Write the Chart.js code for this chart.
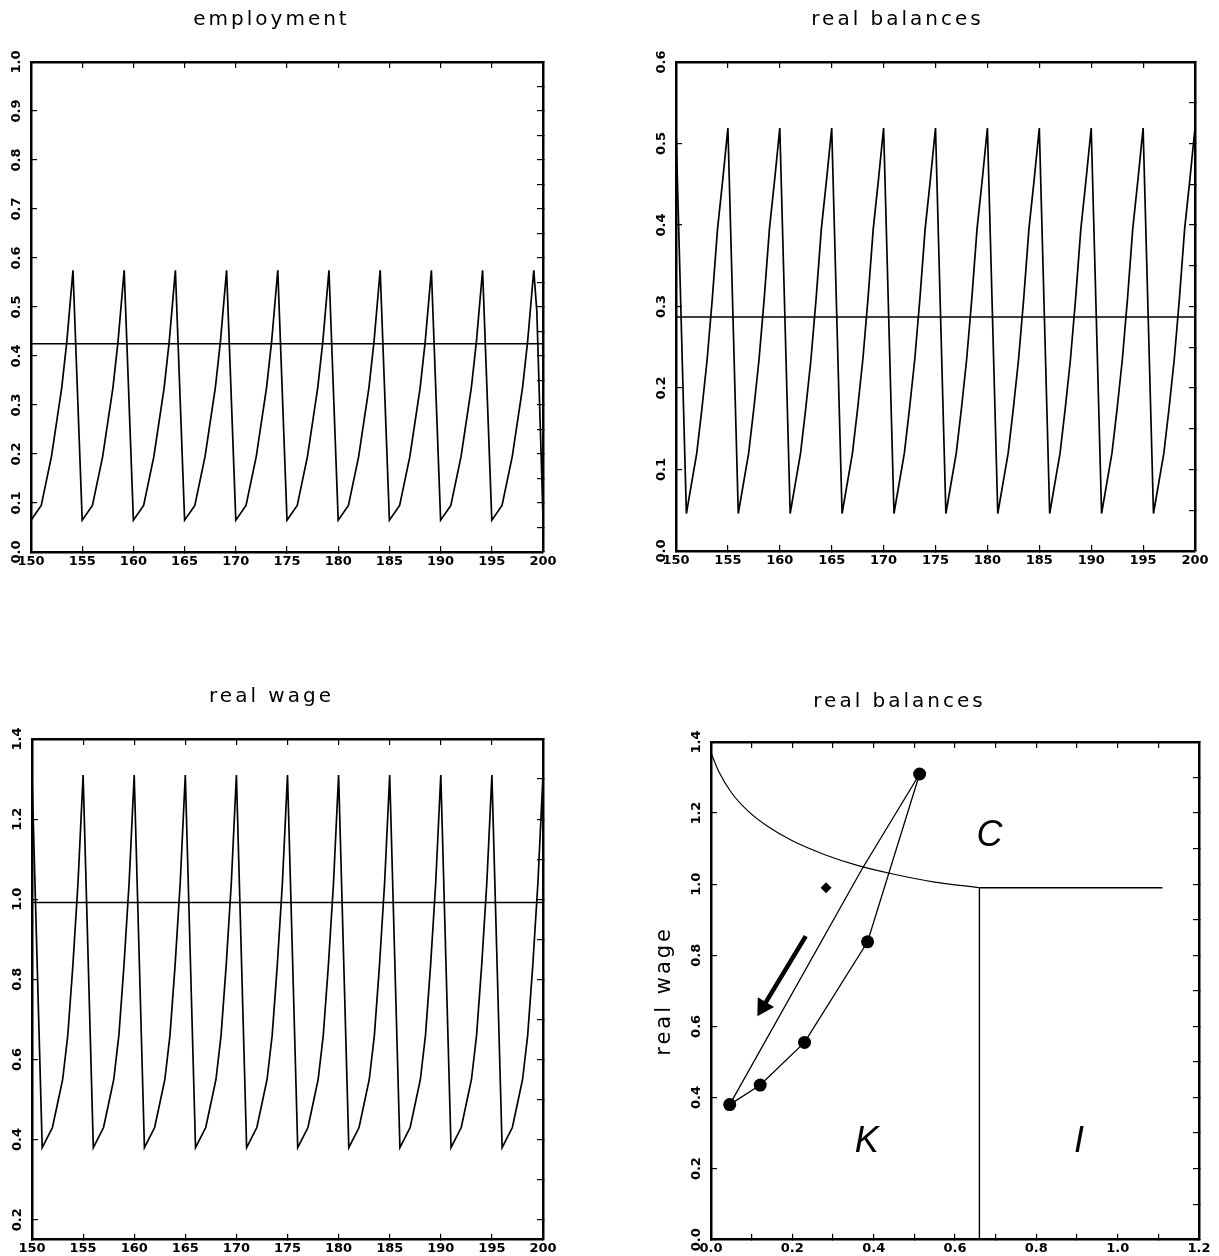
<!DOCTYPE html>
<html>
<head>
<meta charset="utf-8">
<script src="https://cdn.jsdelivr.net/npm/chart.js@4/dist/chart.umd.min.js"></script>
<style>
html,body{margin:0;padding:0;background:#fff;width:1219px;height:1256px;overflow:hidden}
canvas{position:absolute}
</style>
</head>
<body>
<canvas id="c1" width="600" height="628" style="left:0;top:0"></canvas>
<canvas id="c2" width="619" height="628" style="left:600px;top:0"></canvas>
<canvas id="c3" width="600" height="628" style="left:0;top:628px"></canvas>
<canvas id="c4" width="619" height="628" style="left:600px;top:628px"></canvas>
<script>
// ---------------- DATA ----------------
const titles = ['employment', 'real balances', 'real wage', 'real balances'];
const yearTicks = [150, 155, 160, 165, 170, 175, 180, 185, 190, 195, 200];
const meanSpan = [150, 200];

// employment
const empT = [
  150,151,152,153,153.5,154.1,
  155,156,157,158,158.5,159.1,
  160,161,162,163,163.5,164.1,
  165,166,167,168,168.5,169.1,
  170,171,172,173,173.5,174.1,
  175,176,177,178,178.5,179.1,
  180,181,182,183,183.5,184.1,
  185,186,187,188,188.5,189.1,
  190,191,192,193,193.5,194.1,
  195,196,197,198,198.5,199.1,
  199.4,200
];
const empV = [
  0.065,0.095,0.195,0.335,0.43,0.575,
  0.065,0.095,0.195,0.335,0.43,0.575,
  0.065,0.095,0.195,0.335,0.43,0.575,
  0.065,0.095,0.195,0.335,0.43,0.575,
  0.065,0.095,0.195,0.335,0.43,0.575,
  0.065,0.095,0.195,0.335,0.43,0.575,
  0.065,0.095,0.195,0.335,0.43,0.575,
  0.065,0.095,0.195,0.335,0.43,0.575,
  0.065,0.095,0.195,0.335,0.43,0.575,
  0.065,0.095,0.195,0.335,0.43,0.575,
  0.49,0.07
];
const empMean = 0.425;
const empYTicks = [0,0.1,0.2,0.3,0.4,0.5,0.6,0.7,0.8,0.9,1.0];
const empRightTicks = [0,0.05,0.1,0.15,0.2,0.25,0.3,0.35,0.4,0.45,0.5,0.55,0.6,0.65,0.7,0.75,0.8,0.85,0.9,0.95,1.0];

// real balances & real wage share the same sample times
const wT = [
  150,
  151,152,152.5,153,153.5,154,154.5,155,
  156,157,157.5,158,158.5,159,159.5,160,
  161,162,162.5,163,163.5,164,164.5,165,
  166,167,167.5,168,168.5,169,169.5,170,
  171,172,172.5,173,173.5,174,174.5,175,
  176,177,177.5,178,178.5,179,179.5,180,
  181,182,182.5,183,183.5,184,184.5,185,
  186,187,187.5,188,188.5,189,189.5,190,
  191,192,192.5,193,193.5,194,194.5,195,
  196,197,197.5,198,198.5,199,199.5,200
];
const balV = [
  0.519,
  0.046,0.12,0.175,0.235,0.31,0.395,0.455,0.519,
  0.046,0.12,0.175,0.235,0.31,0.395,0.455,0.519,
  0.046,0.12,0.175,0.235,0.31,0.395,0.455,0.519,
  0.046,0.12,0.175,0.235,0.31,0.395,0.455,0.519,
  0.046,0.12,0.175,0.235,0.31,0.395,0.455,0.519,
  0.046,0.12,0.175,0.235,0.31,0.395,0.455,0.519,
  0.046,0.12,0.175,0.235,0.31,0.395,0.455,0.519,
  0.046,0.12,0.175,0.235,0.31,0.395,0.455,0.519,
  0.046,0.12,0.175,0.235,0.31,0.395,0.455,0.519,
  0.046,0.12,0.175,0.235,0.31,0.395,0.455,0.519
];
const balMean = 0.287;
const balYTicks = [0,0.1,0.2,0.3,0.4,0.5,0.6];
const balRightTicks = [0,0.05,0.1,0.15,0.2,0.25,0.3,0.35,0.4,0.45,0.5,0.55,0.6];

const wageV = [
  1.31,
  0.38,0.43,0.49,0.55,0.66,0.835,1.04,1.31,
  0.38,0.43,0.49,0.55,0.66,0.835,1.04,1.31,
  0.38,0.43,0.49,0.55,0.66,0.835,1.04,1.31,
  0.38,0.43,0.49,0.55,0.66,0.835,1.04,1.31,
  0.38,0.43,0.49,0.55,0.66,0.835,1.04,1.31,
  0.38,0.43,0.49,0.55,0.66,0.835,1.04,1.31,
  0.38,0.43,0.49,0.55,0.66,0.835,1.04,1.31,
  0.38,0.43,0.49,0.55,0.66,0.835,1.04,1.31,
  0.38,0.43,0.49,0.55,0.66,0.835,1.04,1.31,
  0.38,0.43,0.49,0.55,0.66,0.835,1.04,1.31
];
const wageMean = 0.992;
const wageYTicks = [0.2,0.4,0.6,0.8,1.0,1.2,1.4];
const wageRightTicks = [0.2,0.3,0.4,0.5,0.6,0.7,0.8,0.9,1.0,1.1,1.2,1.3,1.4];

// phase diagram (real balances vs real wage)
const boundX = [0, 0.02, 0.05, 0.09, 0.14, 0.2, 0.28, 0.36, 0.45, 0.55, 0.66];
const boundY = [1.37, 1.315, 1.258, 1.207, 1.162, 1.122, 1.083, 1.053, 1.028, 1.006, 0.99];
const hLineX = [0.66, 1.11];
const hLineY = [0.99, 0.99];
const vLineX = [0.66, 0.66];
const vLineY = [0, 0.99];
const dotsX = [0.046, 0.121, 0.23, 0.385, 0.513];
const dotsY = [0.38, 0.435, 0.555, 0.838, 1.31];
const retX = [0.513, 0.37, 0.046];
const retY = [1.31, 1.04, 0.38];
const diamondX = [0.283];
const diamondY = [0.99];
const arrowX = [0.233, 0.128];
const arrowY = [0.854, 0.655];
const regionLabels = ['C', 'K', 'I'];
const regionX = [0.685, 0.383, 0.905];
const regionY = [1.135, 0.275, 0.275];
const phaseXTicks = [0,0.1,0.2,0.3,0.4,0.5,0.6,0.7,0.8,0.9,1.0,1.1,1.2];
const phaseYTicks = [0,0.2,0.4,0.6,0.8,1.0,1.2,1.4];
const phaseRightTicks = [0,0.1,0.2,0.3,0.4,0.5,0.6,0.7,0.8,0.9,1.0,1.1,1.2,1.3,1.4];
const phaseYTitle = 'real wage';

// ---------------- HELPERS ----------------
const FONT = "'DejaVu Sans', sans-serif";
const pts = (xs, ys) => xs.map((x, i) => ({x: x, y: ys[i]}));

const spacing = {
  id: 'spacing',
  beforeDraw(chart, args, opts) {
    const ctx = chart.ctx;
    ctx.letterSpacing = opts.ticks || '0px';
    const tb = chart.titleBlock;
    if (tb && !tb._sp) {
      const orig = tb.draw.bind(tb);
      tb.draw = function (a) { const p = ctx.letterSpacing; ctx.letterSpacing = opts.title || '0px'; orig(a); ctx.letterSpacing = p; };
      tb._sp = true;
    }
    const ys = chart.scales.y;
    if (ys && !ys._sp) {
      const o = ys.drawTitle.bind(ys);
      ys.drawTitle = function () { const p = ctx.letterSpacing; ctx.letterSpacing = opts.axisTitle || '0px'; o(); ctx.letterSpacing = p; };
      ys._sp = true;
    }
  },
  afterDraw(chart) { chart.ctx.letterSpacing = '0px'; }
};
Chart.register(spacing);

function buildOptions(g) {
  const titleSize = 20, lh = titleSize * 1.2;
  const padTop = g.titleY - lh / 2;
  const padBottom = g.T - padTop - lh;
  const grid = {display: true, drawOnChartArea: false, drawTicks: true, tickLength: -6, color: '#000', lineWidth: 1.2};
  const border = {display: true, color: '#000', width: 2.5};
  const tickFont = {family: FONT, size: 13, weight: 'bold'};
  const setTicks = vals => s => { s.ticks = vals.map(v => ({value: v})); };
  return {
    responsive: false, animation: false, events: [],
    layout: {padding: {left: 0, top: 0, right: g.W - g.R, bottom: 0}},
    plugins: {
      legend: {display: false}, tooltip: {enabled: false},
      title: {display: true, text: g.title, color: '#000', font: {family: FONT, size: titleSize, weight: 'normal'}, padding: {top: padTop, bottom: padBottom}},
      spacing: {title: '3px', ticks: '0px', axisTitle: '3px'}
    },
    scales: {
      x: {type: 'linear', position: 'bottom', min: g.xMin, max: g.xMax, grid: grid, border: border,
          afterBuildTicks: setTicks(g.xTicks), afterFit: s => { s.height = g.H - g.B; },
          ticks: {color: '#000', font: tickFont, padding: 7.5, minRotation: 0, maxRotation: 0, autoSkip: false, callback: g.xFmt}},
      y: {type: 'linear', position: 'left', min: g.yMin, max: g.yMax, grid: grid, border: border,
          afterBuildTicks: setTicks(g.yTicks), afterFit: s => { s.width = g.L; },
          ticks: {color: '#000', font: tickFont, padding: 8.5, minRotation: 90, maxRotation: 90, crossAlign: 'center', autoSkip: false, callback: v => v.toFixed(1)},
          title: g.yTitle ? {display: true, text: g.yTitle, color: '#000', font: {family: FONT, size: 21, weight: 'normal'}, padding: {top: g.yTitlePad, bottom: 0}} : {display: false}},
      x2: {type: 'linear', position: 'top', min: g.xMin, max: g.xMax, grid: grid, border: border,
           afterBuildTicks: setTicks(g.topTicks), afterFit: s => { s.height = 0; }, ticks: {display: false}},
      y2: {type: 'linear', position: 'right', min: g.yMin, max: g.yMax, grid: grid, border: border,
           afterBuildTicks: setTicks(g.rightTicks), afterFit: s => { s.width = 0; }, ticks: {display: false}}
    }
  };
}
const line = (data, w) => ({data: data, borderColor: '#000', backgroundColor: '#000', borderWidth: w, pointRadius: 0, tension: 0, fill: false});

// ---------------- CHART 1: employment ----------------
new Chart(document.getElementById('c1'), {
  type: 'line',
  data: {datasets: [line(pts(empT, empV), 1.7), line(pts(meanSpan, [empMean, empMean]), 1.5)]},
  options: buildOptions({W: 600, H: 628, L: 31, T: 62, R: 543, B: 552, titleY: 20, title: titles[0],
    xMin: 150, xMax: 200, yMin: 0, yMax: 1.0, xTicks: yearTicks, yTicks: empYTicks, topTicks: yearTicks, rightTicks: empRightTicks,
    xFmt: v => String(v)})
});

// ---------------- CHART 2: real balances ----------------
new Chart(document.getElementById('c2'), {
  type: 'line',
  data: {datasets: [line(pts(wT, balV), 1.7), line(pts(meanSpan, [balMean, balMean]), 1.5)]},
  options: buildOptions({W: 619, H: 628, L: 76, T: 62, R: 595, B: 551, titleY: 20, title: titles[1],
    xMin: 150, xMax: 200, yMin: 0, yMax: 0.6, xTicks: yearTicks, yTicks: balYTicks, topTicks: yearTicks, rightTicks: balRightTicks,
    xFmt: v => String(v)})
});

// ---------------- CHART 3: real wage ----------------
new Chart(document.getElementById('c3'), {
  type: 'line',
  data: {datasets: [line(pts(wT, wageV), 1.7), line(pts(meanSpan, [wageMean, wageMean]), 1.5)]},
  options: buildOptions({W: 600, H: 628, L: 32, T: 111, R: 543, B: 612, titleY: 69, title: titles[2],
    xMin: 150, xMax: 200, yMin: 0.15, yMax: 1.4, xTicks: yearTicks, yTicks: wageYTicks, topTicks: yearTicks, rightTicks: wageRightTicks,
    xFmt: v => String(v)})
});

// ---------------- CHART 4: phase diagram ----------------
const regionText = {
  id: 'regionText',
  afterDatasetsDraw(chart) {
    const ctx = chart.ctx, sx = chart.scales.x, sy = chart.scales.y;
    ctx.save();
    ctx.letterSpacing = '0px';
    ctx.font = "italic 36px 'Liberation Sans', sans-serif";
    ctx.fillStyle = '#000';
    ctx.textAlign = 'center';
    ctx.textBaseline = 'middle';
    regionLabels.forEach((t, i) => ctx.fillText(t, sx.getPixelForValue(regionX[i]), sy.getPixelForValue(regionY[i])));
    ctx.restore();
  }
};
const arrowRotation = c => {
  const ch = c.chart, sx = ch.scales.x, sy = ch.scales.y;
  if (!sx || !sy) return 0;
  const dx = sx.getPixelForValue(arrowX[1]) - sx.getPixelForValue(arrowX[0]);
  const dy = sy.getPixelForValue(arrowY[1]) - sy.getPixelForValue(arrowY[0]);
  return Math.atan2(dx, -dy) * 180 / Math.PI;
};
new Chart(document.getElementById('c4'), {
  type: 'line',
  data: {datasets: [
    Object.assign(line(pts(boundX, boundY), 1.2), {cubicInterpolationMode: 'monotone'}),
    line(pts(hLineX, hLineY), 1.3),
    line(pts(vLineX, vLineY), 1.4),
    line(pts(retX, retY), 1.3),
    Object.assign(line(pts(dotsX, dotsY), 1.3), {pointRadius: 6.5, pointBackgroundColor: '#000', pointBorderColor: '#000', pointBorderWidth: 0}),
    Object.assign(line(pts(diamondX, diamondY), 0), {showLine: false, pointStyle: 'rectRot', pointRadius: 5.5, pointBackgroundColor: '#000', pointBorderColor: '#000', pointBorderWidth: 0}),
    Object.assign(line(pts(arrowX, arrowY), 4.5), {borderCapStyle: 'butt'}),
    Object.assign(line(pts([arrowX[1]], [arrowY[1]]), 0), {showLine: false, pointStyle: 'triangle', pointRadius: 11, pointRotation: arrowRotation, pointBackgroundColor: '#000', pointBorderColor: '#000', pointBorderWidth: 0})
  ]},
  options: buildOptions({W: 619, H: 628, L: 111, T: 114, R: 599, B: 612, titleY: 74, title: titles[3],
    xMin: 0, xMax: 1.2, yMin: 0, yMax: 1.4, xTicks: phaseXTicks, yTicks: phaseYTicks, topTicks: phaseXTicks, rightTicks: phaseRightTicks,
    xFmt: (v, i) => (i % 2 ? '' : v.toFixed(1)), yTitle: phaseYTitle, yTitlePad: 52.4}),
  plugins: [regionText]
});
</script>
</body>
</html>
